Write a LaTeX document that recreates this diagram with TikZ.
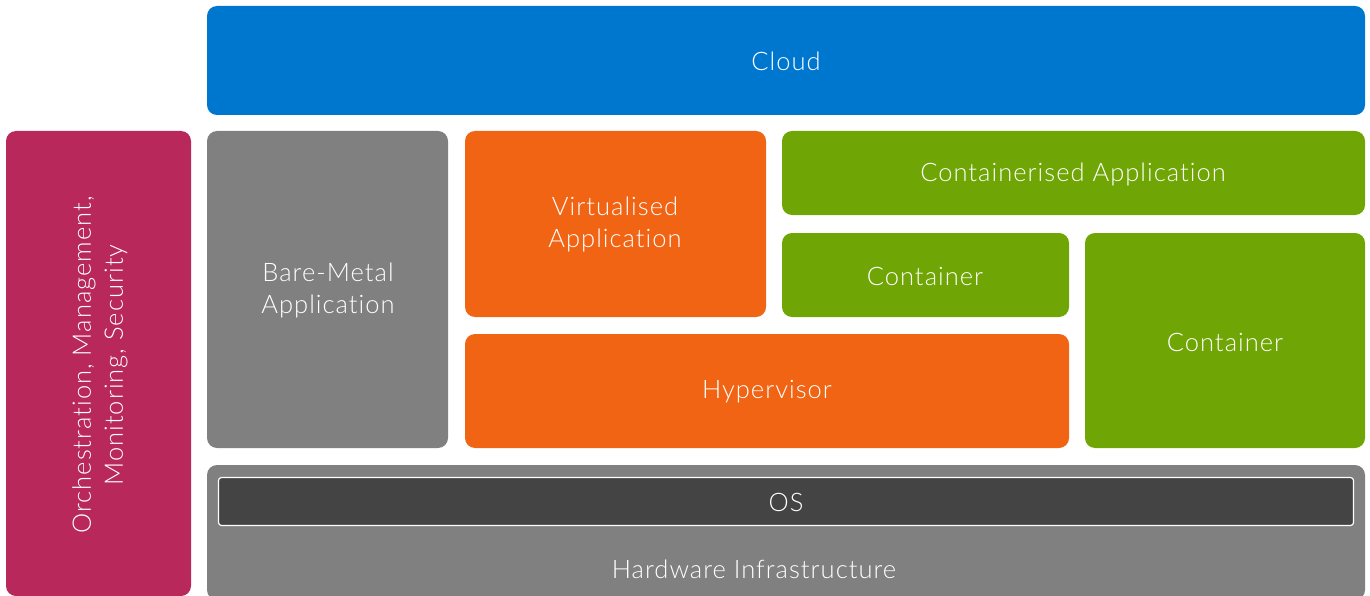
\documentclass[tikz,border=0pt]{standalone}
\usepackage{fontspec}
\setmainfont{Lato Light}[LetterSpace=4, Ligatures=NoCommon]
\definecolor{cloudblue}{HTML}{0077CF}
\definecolor{mgmtpink}{HTML}{B8285A}
\definecolor{metalgray}{HTML}{808080}
\definecolor{virtorange}{HTML}{F06414}
\definecolor{contgreen}{HTML}{6FA504}
\definecolor{osdark}{HTML}{444444}
\tikzset{
  layer/.style={draw=none, text=white, align=center,
    font=\fontsize{25.5}{32}\selectfont},
  slab/.style={rounded corners=10pt}
}
\begin{document}
\begin{tikzpicture}[x=1pt,y=-1pt]
\useasboundingbox (0,0) rectangle (1370,596);
% cloud layer
\fill[cloudblue, slab] (207,6) rectangle (1365,115);
\node[layer] (cloud) at (786,61) {Cloud};
% management column
\fill[mgmtpink, slab] (6,131) rectangle (191,596);
\node[layer, rotate=90] (mgmt) at (100,365) {Orchestration, Management,\\Monitoring, Security};
% application stacks
\fill[metalgray, slab] (207,131) rectangle (448,448);
\node[layer] (bare) at (328,290) {Bare-Metal\\Application};
\fill[virtorange, slab] (465,131) rectangle (766,317);
\node[layer] (vapp) at (615,224) {Virtualised\\Application};
\fill[contgreen, slab] (782,131) rectangle (1365,215);
\node[layer] (capp) at (1073,174) {Containerised Application};
\fill[contgreen, slab] (782,233) rectangle (1069,317);
\node[layer] (cont1) at (925,276) {Container};
\fill[contgreen, slab] (1085,233) rectangle (1365,448);
\node[layer] (cont2) at (1225,342) {Container};
\fill[virtorange, slab] (465,334) rectangle (1069,448);
\node[layer] (hyper) at (767,392) {Hypervisor};
% hardware and OS
\fill[metalgray, slab] (207,465) rectangle (1365,600);
\node[layer] (hw) at (754,569) {Hardware Infrastructure};
\filldraw[fill=osdark, draw=white, line width=1.2pt, rounded corners=3pt] (218.5,477.5) rectangle (1353.5,525.5);
\node[layer] (os) at (786,502) {OS};
\end{tikzpicture}
\end{document}
